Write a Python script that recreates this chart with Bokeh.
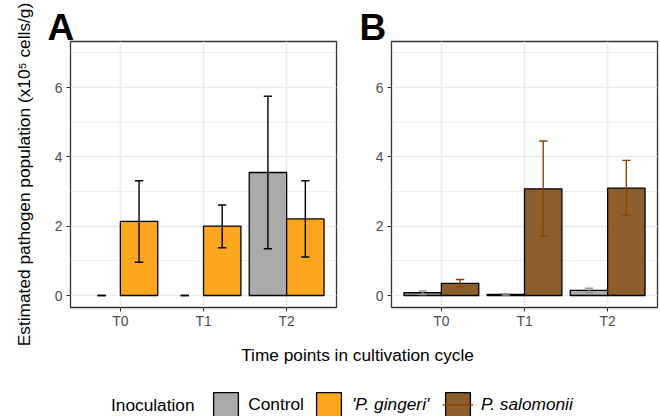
import math
from bokeh.plotting import figure
from bokeh.models import (FactorRange, Range1d, SingleIntervalTicker, ColumnDataSource,
                          Legend, LegendItem, Label)
from bokeh.transform import dodge
from bokeh.layouts import column, row
from bokeh.embed import file_html
from bokeh.resources import INLINE

times = ["T0", "T1", "T2"]

# Panel A: Control vs 'P. gingeri'
a_control_mean = [0.0, 0.0, 3.55]
a_control_lo = [0.0, 0.0, 1.35]
a_control_hi = [0.0, 0.0, 5.75]
a_gingeri_mean = [2.14, 2.00, 2.21]
a_gingeri_lo = [0.96, 1.38, 1.11]
a_gingeri_hi = [3.31, 2.61, 3.31]

# Panel B: Control vs P. salomonii
b_control_mean = [0.08, 0.03, 0.15]
b_control_lo = [0.03, 0.01, 0.08]
b_control_hi = [0.13, 0.05, 0.21]
b_salomonii_mean = [0.35, 3.08, 3.10]
b_salomonii_lo = [0.25, 1.71, 2.31]
b_salomonii_hi = [0.46, 4.46, 3.90]

panel_letters = ["A", "B"]
legend_title = "Inoculation"
legend_labels = ["Control", "'P. gingeri'", "P. salomonii"]
y_title = "Estimated pathogen population (x10\u2075 cells/g)"
x_title = "Time points in cultivation cycle"

FONT = "Liberation Sans"
C_CONTROL = "#A1A1A1"
C_GINGERI = "#FC9C05"
C_SALOMONII = "#7F4D16"
ALPHA = 0.9
GRID = "#EBEBEB"
DARK = "#333333"

BAR_W = 0.45
CAP = 0.05


def blank(width, height):
    f = figure(width=width, height=height, title=None,
               x_range=Range1d(0, width), y_range=Range1d(0, height),
               x_axis_type=None, y_axis_type=None, output_backend="svg", toolbar_location=None,
               min_border_left=0, min_border_right=0, min_border_top=0, min_border_bottom=0)
    f.outline_line_color = None
    f.grid.visible = False
    return f


def make_panel(letter, series, left, right, tag_offset):
    p = figure(x_range=FactorRange(factors=times, range_padding=0.1, range_padding_units="absolute"),
               y_range=Range1d(-0.346, 7.33), title=letter,
               frame_width=266, frame_height=266,
               min_border_left=left, min_border_right=right,
               min_border_top=41, min_border_bottom=25,
               output_backend="svg", toolbar_location=None)
    p.background_fill_color = "white"
    p.border_fill_color = "white"
    p.outline_line_color = DARK
    p.outline_line_width = 1.3

    p.title.align = "left"
    p.title.offset = tag_offset
    p.title.vertical_align = "middle"
    p.title.standoff = -14.7
    p.title.text_font = FONT
    p.title.text_font_size = "37px"
    p.title.text_font_style = "bold"
    p.title.text_color = "black"

    p.yaxis.ticker = SingleIntervalTicker(interval=2, num_minor_ticks=2)
    p.ygrid.grid_line_color = GRID
    p.ygrid.grid_line_width = 1.6
    p.ygrid.minor_grid_line_color = GRID
    p.ygrid.minor_grid_line_width = 0.8
    p.xgrid.grid_line_color = GRID
    p.xgrid.grid_line_width = 1.6

    for ax in (p.xaxis[0], p.yaxis[0]):
        ax.axis_line_color = None
        ax.major_tick_line_color = DARK
        ax.major_tick_line_width = 1.1
        ax.major_tick_out = 4
        ax.major_tick_in = 0
        ax.minor_tick_line_color = None
        ax.major_label_text_font = FONT
        ax.major_label_text_font_size = "13.9px"
        ax.major_label_text_color = "#4D4D4D"
    p.xaxis.major_label_standoff = 1
    p.yaxis.major_label_standoff = 4

    # bars
    for (mean, lo, hi, fill, ecol, off) in series:
        src = ColumnDataSource(dict(time=times,
                                    top=[m if m > 0 else math.nan for m in mean]))
        p.vbar(x=dodge("time", off, range=p.x_range), top="top", bottom=0, width=BAR_W,
               source=src, fill_color=fill, fill_alpha=ALPHA,
               line_color="black", line_width=1.3)
    # error bars
    for (mean, lo, hi, fill, ecol, off) in series:
        src = ColumnDataSource(dict(time=times, lo=lo, hi=hi))
        p.segment(x0=dodge("time", off, range=p.x_range), x1=dodge("time", off, range=p.x_range),
                  y0="lo", y1="hi", source=src, line_color=ecol, line_width=1.4)
        for key in ("lo", "hi"):
            p.segment(x0=dodge("time", off - CAP, range=p.x_range),
                      x1=dodge("time", off + CAP, range=p.x_range),
                      y0=key, y1=key, source=src, line_color=ecol, line_width=1.4)
    return p


pA = make_panel(panel_letters[0], [
    (a_control_mean, a_control_lo, a_control_hi, C_CONTROL, "black", -BAR_W / 2),
    (a_gingeri_mean, a_gingeri_lo, a_gingeri_hi, C_GINGERI, "black", BAR_W / 2),
], left=30, right=23, tag_offset=-23)

pB = make_panel(panel_letters[1], [
    (b_control_mean, b_control_lo, b_control_hi, C_CONTROL, "#999999", -BAR_W / 2),
    (b_salomonii_mean, b_salomonii_lo, b_salomonii_hi, C_SALOMONII, "#8B4500", BAR_W / 2),
], left=32, right=3, tag_offset=-32)

# left strip: shared y title
pY = blank(40, 416)
pY.add_layout(Label(x=23.5, y=242, x_units="screen", y_units="screen", text=y_title,
                    angle=math.pi / 2, text_font=FONT, text_font_size="17.3px",
                    text_color="black", text_align="center", text_baseline="middle"))

# bottom strip: shared x title and legend
pL = blank(620, 84)
pL.add_layout(Label(x=317, y=62, x_units="screen", y_units="screen", text=x_title,
                    text_font=FONT, text_font_size="17.3px", text_color="black",
                    text_align="center", text_baseline="middle"))
pL.add_layout(Label(x=70.5, y=11.8, x_units="screen", y_units="screen", text=legend_title,
                    text_font=FONT, text_font_size="17.3px", text_color="black",
                    text_align="left", text_baseline="middle"))

nan_src = lambda: ColumnDataSource(dict(x=[math.nan], top=[math.nan]))
r_ctrl = pL.vbar(x="x", top="top", width=1, source=nan_src(),
                 fill_color=C_CONTROL, fill_alpha=ALPHA, line_color="black", line_width=1.3)
r_ging = pL.vbar(x="x", top="top", width=1, source=nan_src(),
                 fill_color=C_GINGERI, fill_alpha=ALPHA, line_color="black", line_width=1.3)
r_salo = pL.vbar(x="x", top="top", width=1, source=nan_src(),
                 fill_color=C_SALOMONII, fill_alpha=ALPHA, line_color="black", line_width=1.3)
r_salo_err = pL.line(x=[math.nan], y=[math.nan], line_color="#8B4500", line_width=1.4)

legend_specs = [
    (legend_labels[0], [r_ctrl], "normal", 170.2, 7),
    (legend_labels[1], [r_ging], "italic", 272.9, 8),
    (legend_labels[2], [r_salo, r_salo_err], "italic", 401.9, 8),
]
for label, rends, style, lx, so in legend_specs:
    leg = Legend(items=[LegendItem(label=label, renderers=rends)],
                 location=(lx, -3.7), orientation="horizontal",
                 padding=0, margin=0, spacing=0,
                 border_line_color=None, background_fill_alpha=0,
                 glyph_width=31, glyph_height=31, label_standoff=so,
                 label_text_font=FONT, label_text_font_size="17.3px",
                 label_text_font_style=style, label_text_color="black")
    pL.add_layout(leg, "center")

layout = row(pY, column(row(pA, pB), pL))
open("out.html", "w").write(file_html(layout, INLINE))
